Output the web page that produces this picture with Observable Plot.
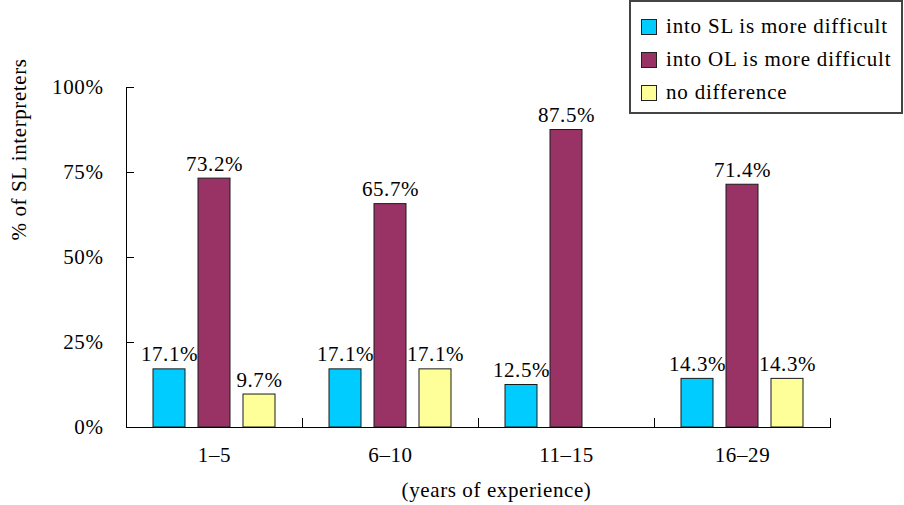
<!DOCTYPE html>
<html>
<head>
<meta charset="utf-8">
<script src="https://cdn.jsdelivr.net/npm/d3@7"></script>
<script src="https://cdn.jsdelivr.net/npm/@observablehq/plot@0.6"></script>
<style>
  html, body { margin: 0; padding: 0; background: #fff; }
  #wrap { position: relative; width: 904px; height: 505px; font-family: "Liberation Serif", serif; }
  #wrap svg text { letter-spacing: 0.6px; }
  #legend {
    position: absolute; left: 629px; top: 0; width: 274px; height: 114px;
    box-sizing: border-box; border: 2px solid #444; background: #fff;
    padding-top: 8px; font-size: 21px; letter-spacing: 0.8px; color: #000;
  }
  #legend .row { display: flex; align-items: center; height: 33px; }
  #legend .sw { width: 14px; height: 14px; border: 1px solid #222; margin-left: 10px; margin-right: 9px; }
</style>
</head>
<body>
<div id="wrap"></div>
<script>
// Years-of-experience groups and the three answer categories
const groups = ["1–5", "6–10", "11–15", "16–29"];
const series = ["into SL is more difficult", "into OL is more difficult", "no difference"];
const colors = ["#00CCFF", "#993366", "#FFFF99"];

// Share of SL interpreters (%) per group, one array per answer
const intoSL = [17.1, 17.1, 12.5, 14.3];
const intoOL = [73.2, 65.7, 87.5, 71.4];
const noDifference = [9.7, 17.1, 0, 14.3];

const yTicks = [0, 25, 50, 75, 100];

const valuesBySeries = [intoSL, intoOL, noDifference];
const rows = groups.flatMap((group, i) =>
  series.map((s, j) => ({group, series: s, value: valuesBySeries[j][i]}))
).filter(d => d.value > 0);

const chart = Plot.plot({
  width: 904,
  height: 505,
  marginLeft: 125,
  marginRight: 73,
  marginTop: 87,
  marginBottom: 78,
  style: {fontFamily: "Liberation Serif", fontSize: "21px", color: "#000", background: "transparent"},
  fx: {domain: groups, padding: 0, label: null},
  x: {domain: series, paddingInner: 0.283, paddingOuter: 0.56, axis: null},
  y: {domain: [0, 100]},
  color: {domain: series, range: colors},
  marks: [
    Plot.barY(rows, {
      fx: "group", x: "series", y: "value", fill: "series",
      stroke: "#1a1a1a", strokeWidth: 1
    }),
    Plot.text(rows, {
      fx: "group", x: "series", y: "value",
      text: d => `${d.value.toFixed(1)}%`,
      lineAnchor: "bottom", dy: -8, fill: "#000"
    }),
    Plot.axisY(yTicks, {
      tickSize: -8, tickPadding: 31, label: null,
      tickFormat: d => `${d}%`, stroke: "#000", fill: "#000"
    }),
    Plot.axisFx({anchor: "bottom", tickSize: 0, tickPadding: 20, label: null, fill: "#000"}),
    // axis lines: vertical at the left of the plot area, horizontal at 0%
    Plot.frame({facet: "super", anchor: "left", stroke: "#000"}),
    Plot.ruleY([0], {stroke: "#000"}),
    // short upward ticks separating the groups
    Plot.frame({anchor: "right", insetTop: 331, stroke: "#000"}),
    Plot.text(["% of SL interpreters"], {
      facet: "super", frameAnchor: "left", rotate: -90, dx: -107, dy: -17, fill: "#000"
    }),
    Plot.text(["(years of experience)"], {
      facet: "super", frameAnchor: "bottom", dx: 18, dy: 69, fill: "#000"
    })
  ]
});

const wrap = document.getElementById("wrap");
wrap.appendChild(chart);

// Legend box in the top-right corner
const legend = document.createElement("div");
legend.id = "legend";
series.forEach((s, i) => {
  const row = document.createElement("div");
  row.className = "row";
  const sw = document.createElement("span");
  sw.className = "sw";
  sw.style.background = colors[i];
  const label = document.createElement("span");
  label.textContent = s;
  row.appendChild(sw);
  row.appendChild(label);
  legend.appendChild(row);
});
wrap.appendChild(legend);
</script>
</body>
</html>
